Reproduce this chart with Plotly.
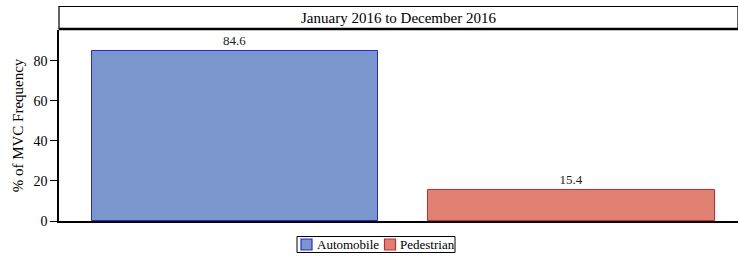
import plotly.graph_objects as go

categories = ["Automobile", "Pedestrian"]
values = [84.6, 15.4]
labels = ["84.6", "15.4"]
fills = ["rgb(123,150,204)", "rgb(224,128,112)"]
borders = ["rgb(40,40,220)", "rgb(200,40,60)"]
strip_title = "January 2016 to December 2016"
y_title = "% of MVC Frequency"
y_ticks = [0, 20, 40, 60, 80]

FONT = "Liberation Serif"
W, H = 738, 257
ML, MR, MT, MB = 59, 0, 30, 36
PW, PH = W - ML - MR, H - MT - MB


def px_x(p):
    return (p - ML) / PW


def px_y(p):
    return (H - MB - p) / PH


fig = go.Figure()
for i, cat in enumerate(categories):
    fig.add_trace(go.Bar(
        x=[i], y=[values[i]], name=cat, width=0.852,
        marker=dict(color=fills[i], line=dict(color=borders[i], width=1)),
        text=[labels[i]], textposition="outside", cliponaxis=False,
        textfont=dict(family=FONT, size=13, color="#222"),
        showlegend=False,
    ))

fig.update_layout(
    width=W, height=H,
    margin=dict(l=ML, r=MR, t=MT, b=MB, autoexpand=False),
    paper_bgcolor="white", plot_bgcolor="white",
    font=dict(family=FONT, color="black", size=13),
    bargap=0,
)
fig.update_xaxes(range=[-0.523, 1.494], showticklabels=False, ticks="",
                 showline=True, linecolor="black", linewidth=1.5, showgrid=False, zeroline=False)
fig.update_yaxes(range=[0, 95.3], tickvals=y_ticks, ticks="outside", ticklen=7, tickwidth=1,
                 tickcolor="black", showline=True, linecolor="black", linewidth=1.5,
                 showgrid=False, zeroline=False, tickfont=dict(size=14, family=FONT),
                 automargin=False,
                 title=dict(text=y_title, font=dict(size=15, family=FONT), standoff=6))

# header strip
fig.add_shape(type="rect", xref="paper", yref="paper", x0=0, x1=1.0, y0=px_y(29), y1=px_y(6.5),
              line=dict(color="black", width=1.2), fillcolor="white", layer="above")
fig.add_shape(type="line", xref="paper", yref="paper", x0=0, x1=1.0, y0=px_y(29), y1=px_y(29),
              line=dict(color="black", width=2.5))
fig.add_annotation(text=strip_title, xref="paper", yref="paper", x=0.5, y=px_y(18),
                   showarrow=False, font=dict(size=15, family=FONT, color="black"),
                   xanchor="center", yanchor="middle")

# legend (compact, boxed)
fig.add_shape(type="rect", xref="paper", yref="paper", x0=px_x(297), x1=px_x(455),
              y0=px_y(252.5), y1=px_y(236.5), line=dict(color="black", width=1),
              fillcolor="white")
sym_left = [301, 384.5]
for i, cat in enumerate(categories):
    x0 = sym_left[i]
    fig.add_shape(type="rect", xref="paper", yref="paper", x0=px_x(x0), x1=px_x(x0 + 11),
                  y0=px_y(250), y1=px_y(239), fillcolor=fills[i],
                  line=dict(color=borders[i], width=1.2))
    fig.add_annotation(text=cat, xref="paper", yref="paper", x=px_x(x0 + 13.5), y=px_y(244.5),
                       showarrow=False, xanchor="left", yanchor="middle",
                       font=dict(size=13, family=FONT, color="black"))

fig.write_html("out.html", config={"displayModeBar": False},
               post_script="document.body.style.margin='0';document.body.style.overflow='hidden';")
